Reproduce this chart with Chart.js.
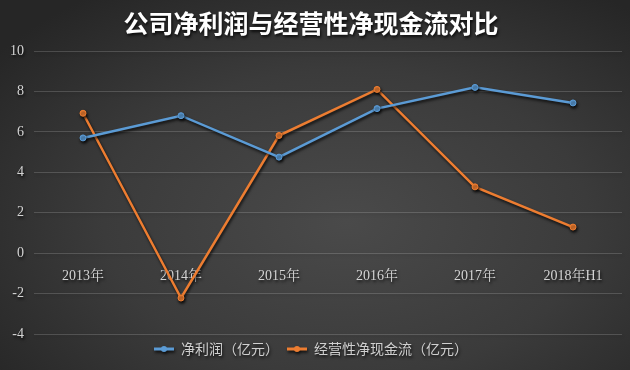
<!DOCTYPE html>
<html>
<head>
<meta charset="utf-8">
<script src="https://cdn.jsdelivr.net/npm/chart.js@4/dist/chart.umd.min.js"></script>
<style>
  html, body { margin: 0; padding: 0; }
  .wrap {
    width: 630px;
    height: 370px;
    background: radial-gradient(ellipse 70% 75% at 55% 60%, #4a4a4a 0%, #3b3b3b 55%, #262626 100%);
  }
</style>
</head>
<body>
<div class="wrap"><canvas id="chart" width="630" height="370"></canvas></div>
<script>
const categories = [`2013年`, `2014年`, `2015年`, `2016年`, `2017年`, `2018年H1`];
const netProfit = [5.7, 6.8, 4.75, 7.15, 8.2, 7.43];
const operatingCashFlow = [6.92, -2.22, 5.82, 8.1, 3.28, 1.29];
const yTicks = [-4, -2, 0, 2, 4, 6, 8, 10];

const BLUE = `#5b9bd5`;
const ORANGE = `#ed7d31`;

// legend marker: short line with a dot, like the original
const makeMarker = (color) => {
  const c = document.createElement(`canvas`);
  c.width = 20;
  c.height = 8;
  const ctx = c.getContext(`2d`);
  ctx.strokeStyle = color;
  ctx.lineWidth = 3;
  ctx.beginPath();
  ctx.moveTo(0, 4);
  ctx.lineTo(20, 4);
  ctx.stroke();
  ctx.fillStyle = color;
  ctx.beginPath();
  ctx.arc(10, 4, 3, 0, Math.PI * 2);
  ctx.fill();
  return c;
};

const titleShadow = {
  id: `titleShadow`,
  beforeDraw(chart) {
    chart.ctx.save();
    chart.ctx.shadowColor = `rgba(0,0,0,0.8)`;
    chart.ctx.shadowBlur = 3;
    chart.ctx.shadowOffsetX = 1;
    chart.ctx.shadowOffsetY = 2;
  },
  afterDraw(chart) {
    chart.ctx.restore();
  }
};

const lineStyle = (color) => ({
  borderColor: color,
  backgroundColor: color,
  pointBackgroundColor: color,
  pointBorderColor: color,
  pointBorderWidth: 1,
  borderWidth: 2.5,
  pointRadius: 3,
  tension: 0
});

new Chart(document.getElementById(`chart`).getContext(`2d`), {
  type: `line`,
  data: {
    labels: categories,
    datasets: [
      Object.assign({label: `净利润（亿元）`, data: netProfit}, lineStyle(BLUE)),
      Object.assign({label: `经营性净现金流（亿元）`, data: operatingCashFlow}, lineStyle(ORANGE))
    ]
  },
  options: {
    responsive: false,
    animation: false,
    layout: {padding: {left: 0, right: 8, top: 4, bottom: 4}},
    plugins: {
      title: {
        display: true,
        text: `公司净利润与经营性净现金流对比`,
        color: `#ffffff`,
        font: {family: `"Noto Sans CJK SC"`, size: 25, weight: `bold`},
        padding: {top: 4, bottom: 13}
      },
      legend: {
        position: `bottom`,
        labels: {
          color: `#d0d0d0`,
          font: {family: `"Noto Sans CJK SC"`, size: 14},
          usePointStyle: true,
          pointStyleWidth: 20,
          generateLabels: (chart) => chart.data.datasets.map((ds, i) => ({
            text: ds.label,
            fontColor: `#d0d0d0`,
            pointStyle: makeMarker(ds.borderColor),
            datasetIndex: i,
            hidden: false,
            lineWidth: 0
          })),
          padding: 8
        }
      },
      tooltip: {enabled: false}
    },
    scales: {
      x: {
        position: {y: 0},
        offset: true,
        grid: {display: false},
        border: {display: false},
        ticks: {
          color: `#d4d4d4`,
          font: {family: `"Liberation Serif", "Noto Serif CJK SC", serif`, size: 14},
          padding: 7,
          maxRotation: 0
        }
      },
      y: {
        min: -4,
        max: 10,
        afterBuildTicks: (scale) => {
          scale.ticks = yTicks.map((v) => ({value: v}));
        },
        afterFit: (scale) => {
          scale.width = 34;
        },
        grid: {color: `rgba(255,255,255,0.16)`, drawTicks: false, lineWidth: 1},
        border: {display: false},
        ticks: {
          color: `#d4d4d4`,
          font: {family: `"Liberation Serif", serif`, size: 14},
          padding: 10
        }
      }
    }
  },
  plugins: [titleShadow]
});
</script>
</body>
</html>
